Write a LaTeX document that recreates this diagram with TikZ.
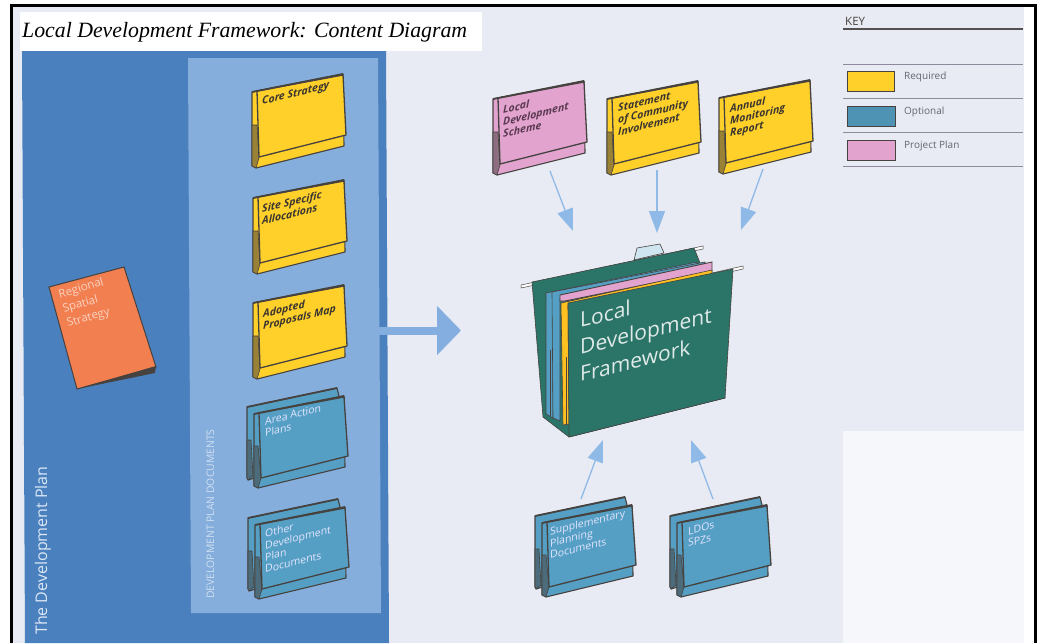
\documentclass[tikz,border=0pt]{standalone}
\usepackage{fontspec}
\setmainfont{Open Sans}
\newfontfamily\titlefont{Liberation Serif}
\usetikzlibrary{arrows.meta}
\definecolor{pagegrey}{HTML}{E8EBF3}
\definecolor{paperwhite}{HTML}{F6F7FA}
\definecolor{planblue}{HTML}{4A80BD}
\definecolor{dpdblue}{HTML}{86AEDC}
\definecolor{arrowblue}{HTML}{84AEDF}
\definecolor{thinblue}{HTML}{8FBAE8}
\definecolor{reqyellow}{HTML}{FFD02A}
\definecolor{optblue}{HTML}{559FC4}
\definecolor{pinkplan}{HTML}{E3A3CF}
\definecolor{orangedoc}{HTML}{F27F50}
\definecolor{ldfgreen}{HTML}{2A7468}
\definecolor{inkdark}{HTML}{46423F}
\definecolor{keyink}{HTML}{66666E}
\definecolor{keyline}{HTML}{8D8A9C}
\definecolor{tabblue}{HTML}{CFE6F0}
\definecolor{labelink}{HTML}{3A3530}
\definecolor{pinkink}{HTML}{5A3A50}
\tikzset{
  folderline/.style={draw=inkdark,line width=1.1pt,line join=round},
  thinline/.style={draw=inkdark,line width=0.6pt,line join=round},
  pics/onefolder/.style={code={
    \path[folderline,fill=#1] (0,0) -- (91,-18) -- (92,54) -- (4,76) -- (0,74) -- cycle;
    \path[thinline,fill=#1!45!inkdark] (0,33) -- (5,33) -- (7,66) -- (4,76) -- (0,74) -- cycle;
    \path[folderline,line width=1.3pt,fill=#1] (5,-1) -- (91,-17) -- (94,43) -- (7,65) -- cycle;
    \path[draw=inkdark,line width=1.8pt] (0,0) -- (91,-18);
  }},
  pics/twofolder/.style={code={
    \path[folderline,fill=#1] (-7,-7) -- (83,-26) -- (85,-18) -- (84,40) -- (-6,66) -- (-7,64) -- cycle;
    \path[draw=inkdark,line width=1.8pt] (-7,-7) -- (83,-26);
    \path[thinline,fill=#1!45!inkdark] (-7,26) -- (-3,26) -- (-1,62) -- (-6,66) -- (-7,64) -- cycle;
    \path[folderline,fill=#1] (0,0) -- (90,-18) -- (91,53) -- (4,74) -- (0,72) -- cycle;
    \path[thinline,fill=#1!45!inkdark] (0,32) -- (4,32) -- (7,64) -- (4,74) -- (0,72) -- cycle;
    \path[folderline,line width=1.3pt,fill=#1] (5,-1) -- (90,-17) -- (94,42) -- (7,64) -- cycle;
    \path[draw=inkdark,line width=1.8pt] (0,0) -- (90,-18);
  }},
  sheared/.style={anchor=base west,align=left,inner sep=0pt,cm={1,0.245,0,1,(0,0)}},
  blacklabel/.style={sheared,font=\fontsize{10.5}{12}\selectfont\bfseries\itshape,text=labelink},
  whitelabel/.style={sheared,font=\fontsize{10.5}{11.8}\selectfont,text=white!90!blue},
  keytext/.style={anchor=west,font=\fontsize{10}{10}\selectfont,text=keyink,inner sep=0pt},
  keyswatch/.style={draw=inkdark,line width=1pt},
  keyrule/.style={draw=keyline,line width=0.9pt},
  thinarrow/.style={draw=thinblue,line width=1.3pt,-{Triangle[length=22pt,width=16pt]}},
  rodline/.style={draw=inkdark,line width=0.5pt,fill=white}
}
\begin{document}
\begin{tikzpicture}[x=1pt,y=-1pt]
\useasboundingbox (0,0) rectangle (1042,643);
% page
\fill[white] (0,0) rectangle (1042,643);
\fill[pagegrey] (13,7) rectangle (1024,643);
\fill[paperwhite] (843,431) rectangle (1024,643);
% plan panels
\fill[planblue] (22,51) -- (386,51) -- (389,643) -- (25,643) -- cycle;
\fill[dpdblue] (188,58) -- (378,58) -- (381,613) -- (191,613) -- cycle;
% title
\node[fill=white,minimum width=462pt,minimum height=39pt,anchor=north west,inner sep=0pt] (titlebox) at (20,12) {};
\node[anchor=base west,inner sep=0pt,font=\titlefont\itshape\fontsize{21.8}{24}\selectfont,text=black] (title) at (22,37) {Local Development Framework: Content Diagram};
% frame
\draw[black,line width=3.5pt] (11.5,643) -- (11.5,5.5) -- (1035.5,5.5) -- (1035.5,643);
% big arrow
\coordinate (bigstart) at (378,330.5);
\coordinate (bigend) at (461,330.5);
\draw[arrowblue,line width=8pt,-{Triangle[length=24pt,width=48pt]}] (bigstart) -- (bigend);
% labels on panels
\node[rotate=90,anchor=base west,inner sep=0pt,text=white!70!dpdblue,font=\fontsize{16}{16}\selectfont] (devplan) at (47,635) {The Development Plan};
\node[rotate=90,anchor=base west,inner sep=0pt,text=white!60!dpdblue,font=\fontsize{10.4}{10.4}\selectfont] (dpd) at (214,599) {DEVELOPMENT PLAN DOCUMENTS};
% regional strategy
\path[draw=inkdark,line width=1pt,fill=orangedoc] (49,287) -- (124,267) -- (156,367) -- (77,389) -- cycle;
\fill[inkdark] (77,389) -- (156,366) -- (155,373) -- cycle;
\node[anchor=base west,align=left,rotate=16,inner sep=0pt,text=white!65!orangedoc,font=\fontsize{11.5}{15}\selectfont] (rss) at (68,327) {Regional\\Spatial\\Strategy};
% required folders
\pic at (252,92) {onefolder=reqyellow};
\node[blacklabel] (core) at (262,105) {Core Strategy};
\pic at (253,198) {onefolder=reqyellow};
\node[blacklabel] (site) at (262,225) {Site Specific\\Allocations};
\pic at (253,303) {onefolder=reqyellow};
\node[blacklabel] (apm) at (263,330) {Adopted\\Proposals Map};
% optional stacks
\pic at (254,414) {twofolder=optblue};
\node[whitelabel] (aap) at (265,437) {Area Action\\Plans};
\pic at (255,525) {twofolder=optblue};
\node[whitelabel] (odpd) at (265,573) {Other\\Development\\Plan\\Documents};
% top row
\pic at (493,99) {onefolder=pinkplan};
\node[blacklabel,text=pinkink] (lds) at (503,138) {Local\\Development\\Scheme};
\pic at (607,99) {onefolder=reqyellow};
\node[blacklabel] (sci) at (618,136) {Statement\\of Community\\Involvement};
\pic at (719,98) {onefolder=reqyellow};
\node[blacklabel] (amr) at (730,137) {Annual\\Monitoring\\Report};
% bottom row
\pic at (542,523) {twofolder=optblue};
\node[whitelabel] (spd) at (550,559) {Supplementary\\Planning\\Documents};
\pic at (677,523) {twofolder=optblue};
\node[whitelabel] (ldo) at (688,547) {LDOs\\SPZs};
% central hanging file
\path[thinline,fill=tabblue] (634,260) -- (637,248) -- (660,244) -- (664,253) -- cycle;
\path[rodline] (521,285) -- (703,246) -- (703,249) -- (521,288) -- cycle;
\path[thinline,fill=ldfgreen] (532,282) -- (694,248) -- (715,300) -- (725,398) -- (569,437) -- (543,417) -- cycle;
\path[thinline,fill=optblue] (546,293) -- (697,262) -- (697,270) -- (553,300) -- (553,418) -- (546,414) -- cycle;
\path[thinline,fill=optblue] (552,292) -- (705,262) -- (705,270) -- (560,299) -- (560,421) -- (553,418) -- cycle;
\path[thinline] (550,350) -- (550,416);
\path[draw=inkdark,line width=0.9pt,fill=pinkplan] (560,295) -- (712,262) -- (712,271) -- (565,301) -- (560,301) -- cycle;
\path[thinline,fill=reqyellow!80!orange] (561,303) -- (712,270) -- (712,274) -- (568,305) -- (569,424) -- (563,425) -- cycle;
\path[thinline] (566,357) -- (566,424);
\path[rodline] (712,273) -- (743,266) -- (743,269) -- (712,276) -- cycle;
\path[thinline,fill=ldfgreen] (568,303) -- (733,269) -- (725,398) -- (569,437) -- cycle;
\node[sheared,text=white!85!ldfgreen,font=\fontsize{21}{27}\selectfont] (ldf) at (580,382) {Local\\Development\\Framework};
% arrows
\coordinate (a1s) at (550,171); \coordinate (a1e) at (573,231);
\coordinate (a2s) at (657,170); \coordinate (a2e) at (657,233);
\coordinate (a3s) at (763,169); \coordinate (a3e) at (741,230);
\coordinate (a4s) at (581,499); \coordinate (a4e) at (603,440);
\coordinate (a5s) at (713,499); \coordinate (a5e) at (691,440);
\draw[thinarrow] (a1s) -- (a1e);
\draw[thinarrow] (a2s) -- (a2e);
\draw[thinarrow] (a3s) -- (a3e);
\draw[thinarrow] (a4s) -- (a4e);
\draw[thinarrow] (a5s) -- (a5e);
% key
\node[anchor=base west,inner sep=0pt,font=\fontsize{11.5}{12}\selectfont,text=inkdark] (key) at (845,25) {KEY};
\draw[draw=inkdark!80!keyline,line width=1.6pt] (843,29) -- (1023,29);
\draw[keyrule] (843,64) -- (1023,64);
\draw[keyrule] (843,98) -- (1023,98);
\draw[keyrule] (843,132) -- (1023,132);
\draw[keyrule] (843,166) -- (1023,166);
\node[keyswatch,fill=reqyellow,minimum width=47pt,minimum height=20pt,anchor=north west,inner sep=0pt] (k1) at (847,71) {};
\node[keyswatch,fill=optblue!92!black,minimum width=48pt,minimum height=20pt,anchor=north west,inner sep=0pt] (k2) at (847,105.5) {};
\node[keyswatch,fill=pinkplan,minimum width=48pt,minimum height=20pt,anchor=north west,inner sep=0pt] (k3) at (847,140) {};
\node[keytext] (t1) at (904,77) {Required};
\node[keytext] (t2) at (904,112) {Optional};
\node[keytext] (t3) at (904,146) {Project Plan};
\end{tikzpicture}
\end{document}
